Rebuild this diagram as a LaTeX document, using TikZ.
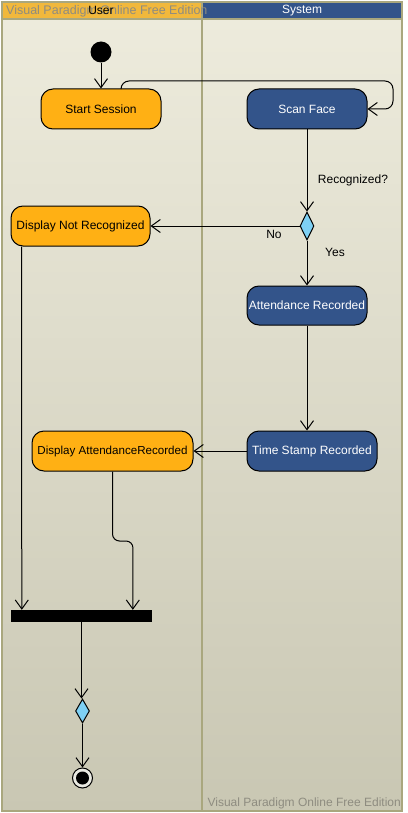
\documentclass[tikz,border=0pt]{standalone}
\usepackage{fontspec}
\setmainfont{Liberation Sans}
\usetikzlibrary{arrows.meta,shapes.geometric}
\definecolor{vporange}{HTML}{FFB014}
\definecolor{vpblue}{HTML}{33548A}
\definecolor{vphead}{HTML}{F1B83C}
\definecolor{vpframe}{HTML}{A9A77E}
\definecolor{vpbgtop}{HTML}{EDEBDC}
\definecolor{vpbgbot}{HTML}{C9C7B3}
\definecolor{vpdiam}{HTML}{7ED0F4}
\definecolor{vpwm}{HTML}{8E8C80}
\begin{document}
\begin{tikzpicture}[x=1pt,y=-1pt,
  act/.style={draw=black,line width=1pt,rounded corners=12pt,minimum height=40pt,inner sep=0pt,font=\fontsize{12}{14}\selectfont},
  useract/.style={act,fill=vporange,text=black},
  sysact/.style={act,fill=vpblue,text=white},
  flow/.style={draw=black,line width=1pt,-{Straight Barb[length=9pt,width=13pt,line width=1pt]}},
  decision/.style={diamond,draw=black,line width=1pt,fill=vpdiam,minimum width=14pt,minimum height=28pt,inner sep=0pt},
  lbl/.style={font=\fontsize{12}{14}\selectfont,inner sep=0pt},
  wm/.style={font=\fontsize{12.5}{14}\selectfont,text=vpwm,inner sep=0pt}
]
\useasboundingbox (0,0) rectangle (407,813);
% background and lanes
\shade[top color=vpbgtop,bottom color=vpbgbot] (2,19) rectangle (402,811);
\fill[vphead] (2,2) rectangle (202,19);
\fill[vpblue] (202,2) rectangle (402,19);
\draw[vpframe,line width=2pt] (2,2) rectangle (402,811);
\draw[vpframe,line width=2pt] (202,2) -- (202,811);
\draw[vpframe,line width=1.5pt] (2,19) -- (402,19);
\node[wm,anchor=west] (wmtop) at (6,11.5) {Visual Paradigm Online Free Edition};
\node[lbl] (userhead) at (101,10.5) {User};
\node[lbl,text=white] (syshead) at (302,10.5) {System};
\node[wm,anchor=east,font=\fontsize{12}{14}\selectfont] (wmbot) at (401,803) {Visual Paradigm Online Free Edition};

% nodes
\node[circle,fill=black,minimum size=21pt,inner sep=0pt] (init) at (101,52) {};
\node[useract,minimum width=120pt] (ss) at (101,109) {Start Session};
\node[sysact,minimum width=120pt] (sf) at (307,109) {Scan Face};
\node[decision] (d1) at (307,226) {};
\node[useract,minimum width=139pt] (dnr) at (80.5,226) {Display Not Recognized};
\node[sysact,minimum width=120pt,minimum height=39pt] (ar) at (307,305.5) {Attendance Recorded};
\node[sysact,minimum width=130pt] (ts) at (312,451) {Time Stamp Recorded};
\node[useract,minimum width=161pt,font=\fontsize{11.6}{14}\selectfont] (dar) at (112.5,451) {Display AttendanceRecorded};
\node[rectangle,fill=black,minimum width=141pt,minimum height=12pt,inner sep=0pt] (bar) at (81.5,616) {};
\node[decision,minimum height=24pt] (d2) at (82.5,711) {};
\node[circle,draw=black,line width=1pt,fill=white!60!vpbgbot,minimum size=20pt,inner sep=0pt] (fin) at (82.5,778) {};
\node[circle,fill=black,minimum size=13pt,inner sep=0pt] (finin) at (fin.center) {};

% labels
\node[lbl] (recog) at (353,180) {Recognized?};
\node[lbl] (no) at (274,234) {No};
\node[lbl] (yes) at (335,252) {Yes};

% connectors
\draw[flow] (init) -- (ss.north);
\draw[flow,rounded corners=8pt] ([xshift=20pt]ss.north) |- (393,81) |- (sf.east);
\draw[flow] (sf.south) -- (d1.north);
\draw[flow] (d1.west) -- (dnr.east);
\draw[flow] (d1.south) -- (ar.north);
\draw[flow] (ar.south) -- (ar.south |- ts.north);
\draw[flow] (ts.west) -- (dar.east);
\draw[flow] ([xshift=11pt]dnr.south west) -- ([xshift=11pt]bar.north west);
\draw[flow,rounded corners=7pt] (dar.south) -- (112.5,541) -- (133,541) -- ([xshift=122pt]bar.north west);
\draw[flow] (bar.south) -- (bar.south |- d2.north);
\draw[flow] (d2.south) -- (fin.north);
\end{tikzpicture}
\end{document}
